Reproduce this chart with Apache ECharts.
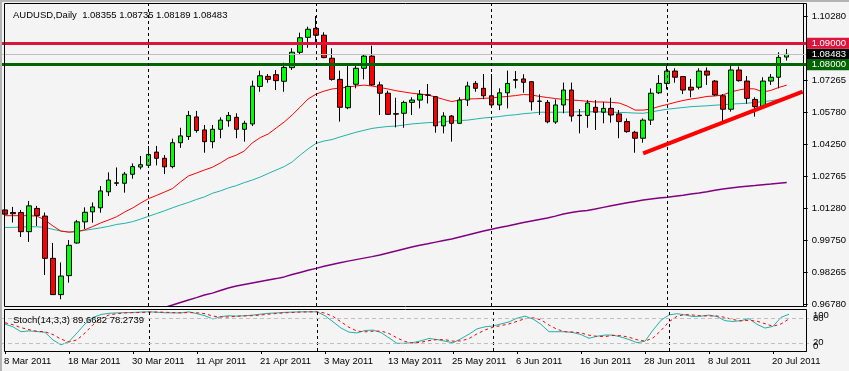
<!DOCTYPE html>
<html><head><meta charset="utf-8">
<script src="https://cdn.jsdelivr.net/npm/echarts@6/dist/echarts.min.js"></script>
<style>html,body{margin:0;padding:0;background:#f4f4f4}#c{width:849px;height:371px}</style>
</head><body><div id="c"></div>
<script>
const dates = [
'8 Mar 2011','9 Mar 2011','10 Mar 2011','11 Mar 2011','14 Mar 2011','15 Mar 2011','16 Mar 2011','17 Mar 2011','18 Mar 2011','21 Mar 2011','22 Mar 2011','23 Mar 2011','24 Mar 2011','25 Mar 2011','28 Mar 2011','29 Mar 2011','30 Mar 2011','31 Mar 2011',
'1 Apr 2011','4 Apr 2011','5 Apr 2011','6 Apr 2011','7 Apr 2011','8 Apr 2011','11 Apr 2011','12 Apr 2011','13 Apr 2011','14 Apr 2011','15 Apr 2011','18 Apr 2011','19 Apr 2011','20 Apr 2011','21 Apr 2011','22 Apr 2011','25 Apr 2011','26 Apr 2011','27 Apr 2011','28 Apr 2011','29 Apr 2011',
'2 May 2011','3 May 2011','4 May 2011','5 May 2011','6 May 2011','9 May 2011','10 May 2011','11 May 2011','12 May 2011','13 May 2011','16 May 2011','17 May 2011','18 May 2011','19 May 2011','20 May 2011','23 May 2011','24 May 2011','25 May 2011','26 May 2011','27 May 2011','30 May 2011','31 May 2011',
'1 Jun 2011','2 Jun 2011','3 Jun 2011','6 Jun 2011','7 Jun 2011','8 Jun 2011','9 Jun 2011','10 Jun 2011','13 Jun 2011','14 Jun 2011','15 Jun 2011','16 Jun 2011','17 Jun 2011','20 Jun 2011','21 Jun 2011','22 Jun 2011','23 Jun 2011','24 Jun 2011','27 Jun 2011','28 Jun 2011','29 Jun 2011','30 Jun 2011',
'1 Jul 2011','4 Jul 2011','5 Jul 2011','6 Jul 2011','7 Jul 2011','8 Jul 2011','11 Jul 2011','12 Jul 2011','13 Jul 2011','14 Jul 2011','15 Jul 2011','18 Jul 2011','19 Jul 2011','20 Jul 2011','21 Jul 2011','22 Jul 2011'];
const emptySlots = ['', ' '];

const openP = [1.0119,1.0107,1.0107,1.0017,1.0126,1.0090,0.9892,0.9722,0.9811,0.9964,
1.0063,1.0110,1.0129,1.0204,1.0244,1.0244,1.0286,1.0320,1.0328,1.0390,
1.0361,1.0322,1.0434,1.0463,1.0555,1.0494,1.0439,1.0497,1.0537,1.0553,
1.0497,1.0522,1.0698,1.0745,1.0753,1.0722,1.0786,1.0858,1.0928,1.0970,
1.0938,1.0830,1.0731,1.0598,1.0708,1.0783,1.0840,1.0705,1.0666,1.0570,
1.0572,1.0623,1.0634,1.0658,1.0650,1.0513,1.0559,1.0525,1.0634,1.0712,
1.0689,1.0654,1.0611,1.0668,1.0727,1.0733,1.0720,1.0629,1.0623,1.0531,
1.0611,1.0681,1.0563,1.0562,1.0600,1.0577,1.0595,1.0569,1.0533,1.0483,
1.0455,1.0540,1.0668,1.0712,1.0770,1.0744,1.0694,1.0694,1.0770,1.0723,
1.0654,1.0591,1.0775,1.0723,1.0637,1.0603,1.0723,1.0741,1.08355];
const closeP = [1.0099,1.0101,1.0017,1.0138,1.0093,0.9892,0.9722,0.9809,0.9953,1.0063,
1.0108,1.0133,1.0208,1.0259,1.0246,1.0287,1.0322,1.0331,1.0379,1.0361,
1.0321,1.0434,1.0466,1.0562,1.0491,1.0439,1.0497,1.0540,1.0562,1.0497,
1.0525,1.0699,1.0748,1.0731,1.0725,1.0787,1.0858,1.0926,1.0966,1.0938,
1.0833,1.0731,1.0600,1.0698,1.0783,1.0840,1.0705,1.0666,1.0567,1.0568,
1.0623,1.0634,1.0661,1.0657,1.0513,1.0559,1.0525,1.0634,1.0700,1.0689,
1.0654,1.0611,1.0668,1.0712,1.0730,1.0717,1.0626,1.0628,1.0532,1.0611,
1.0681,1.0559,1.0561,1.0620,1.0577,1.0595,1.0564,1.0533,1.0486,1.0455,
1.0540,1.0666,1.0712,1.0770,1.0741,1.0681,1.0681,1.0770,1.0751,1.0658,
1.0591,1.0775,1.0725,1.0642,1.0603,1.0723,1.0741,1.0834,1.08483];
const lowP = [1.0092,1.0060,0.9992,0.9969,1.0044,0.9814,0.9720,0.9700,0.9778,0.9961,
1.0030,1.0059,1.0106,1.0184,1.0231,1.0200,1.0265,1.0309,1.0316,1.0328,
1.0287,1.0314,1.0410,1.0447,1.0481,1.0387,1.0408,1.0455,1.0509,1.0455,
1.0439,1.0512,1.0673,1.0715,1.0681,1.0673,1.0775,1.0848,1.0879,1.0906,
1.0830,1.0725,1.0533,1.0591,1.0689,1.0731,1.0700,1.0564,1.0564,1.0506,
1.0504,1.0564,1.0595,1.0618,1.0481,1.0478,1.0439,1.0522,1.0606,1.0673,
1.0638,1.0606,1.0587,1.0595,1.0689,1.0668,1.0585,1.0564,1.0525,1.0522,
1.0572,1.0533,1.0478,1.0504,1.0494,1.0525,1.0528,1.0455,1.0481,1.0387,
1.0434,1.0517,1.0662,1.0684,1.0715,1.0662,1.0647,1.0684,1.0705,1.0653,
1.0522,1.0580,1.0720,1.0617,1.0556,1.0600,1.0705,1.0689,1.08189];
const highP = [1.0133,1.0133,1.0119,1.0161,1.0138,1.0107,0.9964,0.9873,0.9978,1.0072,
1.0131,1.0154,1.0231,1.0295,1.0318,1.0297,1.0337,1.0372,1.0419,1.0419,
1.0376,1.0453,1.0504,1.0583,1.0583,1.0517,1.0517,1.0553,1.0578,1.0572,
1.0537,1.0725,1.0772,1.0756,1.0775,1.0809,1.0877,1.0950,1.0978,1.1028,
1.0952,1.0877,1.0772,1.0803,1.0798,1.0850,1.0889,1.0720,1.0678,1.0645,
1.0631,1.0647,1.0681,1.0709,1.0652,1.0577,1.0564,1.0647,1.0720,1.0723,
1.0756,1.0756,1.0689,1.0772,1.0770,1.0755,1.0723,1.0661,1.0634,1.0637,
1.0716,1.0716,1.0592,1.0634,1.0634,1.0625,1.0645,1.0587,1.0548,1.0490,
1.0548,1.0689,1.0751,1.0795,1.0783,1.0747,1.0733,1.0783,1.0787,1.0728,
1.0662,1.0798,1.0791,1.0747,1.0647,1.0741,1.0756,1.0858,1.08735];

const maRed = [1.0092,1.0092,1.0092,1.0092,1.0090,1.0072,1.0044,1.0020,1.0015,1.0017,
1.0026,1.0041,1.0058,1.0072,1.0087,1.0109,1.0128,1.0151,1.0172,1.0187,
1.0203,1.0219,1.0250,1.0278,1.0292,1.0306,1.0319,1.0339,1.0362,1.0376,
1.0395,1.0433,1.0458,1.0475,1.0503,1.0531,1.0564,1.0601,1.0639,1.0662,
1.0676,1.0686,1.0690,1.0695,1.0700,1.0704,1.0700,1.0693,1.0686,1.0678,
1.0672,1.0666,1.0662,1.0658,1.0648,1.0637,1.0627,1.0634,1.0639,1.0640,
1.0642,1.0644,1.0648,1.0651,1.0655,1.0660,1.0658,1.0651,1.0646,1.0641,
1.0637,1.0634,1.0632,1.0628,1.0625,1.0625,1.0623,1.0620,1.0606,1.0587,
1.0587,1.0592,1.0604,1.0613,1.0623,1.0632,1.0639,1.0644,1.0651,1.0653,
1.0658,1.0672,1.0681,1.0688,1.0686,1.0672,1.0679,1.0693,1.0704];
const maCyan = [1.0037,1.0037,1.0039,1.0040,1.0040,1.0037,1.0028,1.0020,1.0015,1.0018,
1.0023,1.0029,1.0035,1.0042,1.0051,1.0056,1.0064,1.0076,1.0089,1.0102,
1.0115,1.0129,1.0142,1.0154,1.0168,1.0180,1.0197,1.0208,1.0222,1.0233,
1.0247,1.0259,1.0273,1.0290,1.0306,1.0322,1.0344,1.0376,1.0405,1.0431,
1.0442,1.0449,1.0461,1.0472,1.0483,1.0492,1.0501,1.0506,1.0510,1.0512,
1.0517,1.0522,1.0525,1.0528,1.0530,1.0533,1.0536,1.0538,1.0540,1.0545,
1.0550,1.0553,1.0557,1.0562,1.0565,1.0570,1.0573,1.0577,1.0577,1.0577,
1.0577,1.0578,1.0579,1.0579,1.0579,1.0578,1.0577,1.0576,1.0575,1.0573,
1.0572,1.0578,1.0585,1.0591,1.0595,1.0599,1.0603,1.0605,1.0607,1.0610,
1.0612,1.0615,1.0617,1.0619,1.0623,1.0626,1.0631,1.0637,1.0642];
const maPurple = [null,null,null,null,null,null,null,null,null,null,
null,null,null,null,null,null,null,null,null,0.9652,
0.9662,0.9673,0.9685,0.9697,0.9708,0.9720,0.9729,0.9741,0.9753,0.9762,
0.9769,0.9776,0.9783,0.9790,0.9797,0.9805,0.9816,0.9826,0.9836,0.9845,
0.9855,0.9863,0.9871,0.9879,0.9886,0.9893,0.9900,0.9908,0.9917,0.9926,
0.9936,0.9945,0.9953,0.9960,0.9968,0.9976,0.9983,0.9992,1.0001,1.0011,
1.0020,1.0028,1.0037,1.0044,1.0052,1.0060,1.0067,1.0074,1.0081,1.0090,
1.0100,1.0107,1.0113,1.0116,1.0123,1.0131,1.0139,1.0146,1.0153,1.0159,
1.0165,1.0170,1.0175,1.0178,1.0183,1.0188,1.0194,1.0198,1.0204,1.0211,
1.0217,1.0222,1.0226,1.0230,1.0233,1.0237,1.0240,1.0244,1.0248];

const stochK = [65.7,59,47,49,47.5,45.5,27,15,23,44,
66,82,89,92,93,93.5,94,95,95.6,94.5,
93.3,93,93,95.5,91,86,78,84,86,85,
86,87.6,90,92,93,94.3,95,95.6,95.6,95.6,
86,71.3,56,46,44,50,51,45,32,18.7,
18.7,20.5,25,30.5,28,24,20,30,41,54,
59,61,66,71,80,85,78,65,47,47,
47,45,40,31,36,38.9,38.9,34,28,20.2,
24,51,75,88,91,88,84,85,87.6,84,
74,72,74,79,65,56,60,82,89.6682];
const stochD = [69,64,57,52,48,47,40,29,22,27,
44,64,79,88,91,93,93.5,94,95,95,
94.5,93.6,93.1,93.8,93.2,91,85,83,83,85,
85.7,86.2,87.9,89.9,91.7,93.1,94.1,95,95.4,95.6,
92.4,84.3,71.1,57.8,48.7,46.7,48.3,48.7,42.7,31.9,
23.1,19.3,21.4,25.3,27.8,27.5,24,24.7,30.3,41.7,
51.3,58,62,66,72.3,78.7,81,76,63.3,53,
47,46.3,44,38.7,35.7,35.3,37.9,37.3,33.6,27.4,
24.1,31.7,50,71.3,84.7,89,87.7,85.7,85.5,85.5,
81.9,76.7,73.3,75,72.7,66.7,60.3,66,78.2739];

const priceTicks = [1.1028, 1.07265, 1.0578, 1.0425, 1.02765, 1.0128, 0.9975, 0.98265, 0.9678];
const levelRed = 1.09, levelGreen = 1.08, bidPrice = 1.08483;
const trendStart = [80, 1.0384], trendEnd = [100, 1.0674];
const monthStarts = ['1 Apr 2011', '2 May 2011', '1 Jun 2011', '1 Jul 2011'];
const stochLevels = [20, 80];
const headerText = 'AUDUSD,Daily  1.08355 1.08735 1.08189 1.08483';
const stochText = 'Stoch(14,3,3) 89.6682 78.2739';

const FONT = 'Liberation Sans';
const cats = dates.concat(emptySlots);
const ohlc = openP.map((o, i) => [o, closeP[i], lowP[i], highP[i]]);

const chart = echarts.init(document.getElementById('c'), null, {renderer: 'canvas'});
const sepLines = monthStarts.map(d => ({xAxis: d, lineStyle: {color: '#000', type: [3, 3], width: 1}}));
function boxLabel(bg, txt) {
  return {show: true, position: 'end', distance: 0, formatter: txt, color: '#fff', backgroundColor: bg,
    fontFamily: FONT, fontSize: 9.5, lineHeight: 11, padding: [0, 6, 0, 5]};
}
function hLine(value, color, width, bg) {
  return {silent: true, symbol: ['none', 'none'], animation: false, precision: 5,
    data: [{yAxis: value, lineStyle: {color: color, width: width, type: 'solid'}, label: boxLabel(bg, value.toFixed(5))}]};
}
const hideAxis = {show: false};
const option = {
  animation: false,
  backgroundColor: '#f4f4f4',
  title: [
    {text: headerText, left: 8, top: 5, textStyle: {fontFamily: FONT, fontSize: 9.5, fontWeight: 'normal', color: '#000'}},
    {text: stochText, left: 8, top: 310, textStyle: {fontFamily: FONT, fontSize: 9.5, fontWeight: 'normal', color: '#000'}}
  ],
  grid: [
    {left: 1, top: 4, width: 808, height: 302},
    {left: 1, top: 310, width: 808, height: 41}
  ],
  xAxis: [
    {type: 'category', gridIndex: 0, data: cats, axisLine: hideAxis, axisTick: hideAxis, axisLabel: hideAxis, splitLine: hideAxis},
    {type: 'category', gridIndex: 1, data: cats, axisLine: hideAxis,
      axisTick: {show: true, interval: 7, alignWithLabel: true, length: 3, lineStyle: {color: '#000'}},
      axisLabel: {show: true, interval: 7, align: 'left', margin: 5, padding: [0, 0, 0, -1], hideOverlap: false, fontFamily: FONT, fontSize: 9.5, color: '#000'},
      splitLine: hideAxis}
  ],
  yAxis: [
    {type: 'value', gridIndex: 0, position: 'right', offset: -3, min: 0.96686, max: 1.10843, scale: true,
      axisLine: {show: true, lineStyle: {color: '#000'}},
      axisTick: {show: true, length: 4, customValues: priceTicks, lineStyle: {color: '#000'}},
      axisLabel: {show: true, customValues: priceTicks, margin: 8, formatter: v => v.toFixed(5), fontFamily: FONT, fontSize: 9.5, color: '#000'},
      splitLine: hideAxis},
    {type: 'value', gridIndex: 1, position: 'right', offset: -3, min: 0, max: 100,
      axisLine: {show: true, lineStyle: {color: '#000'}},
      axisTick: {show: true, length: 3, customValues: stochLevels, lineStyle: {color: '#000'}},
      axisLabel: {show: true, customValues: stochLevels, margin: 7, fontFamily: FONT, fontSize: 9.5, color: '#000'},
      splitLine: hideAxis},
    {type: 'value', gridIndex: 1, position: 'right', offset: -3, min: 0, max: 100,
      axisLine: hideAxis, axisTick: hideAxis,
      axisLabel: {show: true, customValues: [100], margin: 7, verticalAlign: 'top', fontFamily: FONT, fontSize: 9.5, color: '#000'},
      splitLine: hideAxis},
    {type: 'value', gridIndex: 1, position: 'right', offset: -3, min: 0, max: 100,
      axisLine: hideAxis, axisTick: hideAxis,
      axisLabel: {show: true, customValues: [0], margin: 7, verticalAlign: 'bottom', fontFamily: FONT, fontSize: 9.5, color: '#000'},
      splitLine: hideAxis}
  ],
  series: [
    {type: 'line', name: 'MA200', xAxisIndex: 0, yAxisIndex: 0, data: maPurple, showSymbol: false,
      lineStyle: {color: '#800080', width: 1.5}, silent: true, z: 2,
      markLine: hLine(bidPrice, '#c0c0c0', 1, '#000')},
    {type: 'line', name: 'MA50', xAxisIndex: 0, yAxisIndex: 0, data: maCyan, showSymbol: false,
      lineStyle: {color: '#20b2aa', width: 1}, silent: true, z: 2,
      markLine: hLine(levelRed, '#dc143c', 3, '#dc143c')},
    {type: 'line', name: 'MA20', xAxisIndex: 0, yAxisIndex: 0, data: maRed, showSymbol: false,
      lineStyle: {color: '#ff0000', width: 1}, silent: true, z: 2,
      markLine: hLine(levelGreen, '#006400', 3, '#006400')},
    {type: 'candlestick', name: 'AUDUSD', xAxisIndex: 0, yAxisIndex: 0, data: ohlc, barWidth: 5, z: 3,
      itemStyle: {color: '#00ff00', color0: '#ff0000', borderColor: '#000', borderColor0: '#000', borderWidth: 1},
      markLine: {silent: true, symbol: ['none', 'none'], animation: false, precision: 5,
        label: {show: false},
        data: sepLines.concat([
          [{coord: trendStart, lineStyle: {color: '#ff0000', width: 4, type: 'solid'}}, {coord: trendEnd}]
        ])}},
    {type: 'line', name: 'StochMain', xAxisIndex: 1, yAxisIndex: 1, data: stochK, showSymbol: false,
      lineStyle: {color: '#20b2aa', width: 1}, silent: true, z: 3,
      markLine: {silent: true, symbol: ['none', 'none'], label: {show: false},
        data: sepLines.concat(stochLevels.map(v => ({yAxis: v, lineStyle: {color: '#c0c0c0', type: [4, 3], width: 1}})))}},
    {type: 'line', name: 'StochSignal', xAxisIndex: 1, yAxisIndex: 1, data: stochD, showSymbol: false,
      lineStyle: {color: '#ff0000', width: 1, type: [3, 3]}, silent: true, z: 3}
  ],
  graphic: [
    {type: 'rect', shape: {x: 0, y: 0, width: 849, height: 2}, style: {fill: '#b4b4b4'}, z: 200, silent: true},
    {type: 'rect', shape: {x: 0, y: 0, width: 2, height: 371}, style: {fill: '#b4b4b4'}, z: 200, silent: true},
    {type: 'rect', shape: {x: 4.5, y: 3.5, width: 802, height: 303}, style: {fill: 'none', stroke: '#000', lineWidth: 1}, z: 200, silent: true},
    {type: 'rect', shape: {x: 4.5, y: 309.5, width: 802, height: 42}, style: {fill: 'none', stroke: '#000', lineWidth: 1}, z: 200, silent: true}
  ]
};
chart.setOption(option);
</script></body></html>
